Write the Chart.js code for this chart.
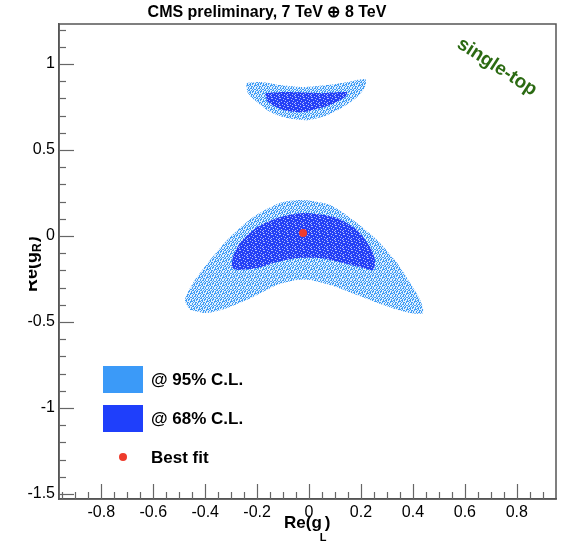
<!DOCTYPE html>
<html>
<head>
<meta charset="utf-8">
<script src="https://cdn.jsdelivr.net/npm/chart.js@4.4.1/dist/chart.umd.min.js"></script>
<style>
  html, body { margin: 0; padding: 0; background: #fff; }
  #wrap { width: 562px; height: 541px; }
</style>
</head>
<body>
<div id="wrap"><canvas id="cl-chart" width="562" height="541"></canvas></div>
<script>
// contour outlines, points are [Re(gL), Re(gR)]
const upper95 = [
  [-0.243, 0.890], [-0.177, 0.895], [-0.112, 0.878], [-0.023, 0.866], [0.069, 0.878],
  [0.146, 0.895], [0.216, 0.913], [0.216, 0.866], [0.185, 0.808], [0.131, 0.750],
  [0.069, 0.703], [-0.008, 0.674], [-0.085, 0.686], [-0.150, 0.721], [-0.200, 0.779],
  [-0.235, 0.831], [-0.243, 0.890]
];
const upper68 = [
  [-0.169, 0.831], [-0.085, 0.837], [0.042, 0.831], [0.146, 0.837], [0.139, 0.808],
  [0.081, 0.762], [-0.023, 0.721], [-0.100, 0.733], [-0.158, 0.779], [-0.169, 0.831]
];
const lower95 = [
  [-0.458, -0.430], [-0.478, -0.372], [-0.447, -0.273], [-0.381, -0.140], [-0.304, -0.006],
  [-0.216, 0.110], [-0.112, 0.192], [-0.023, 0.209], [0.081, 0.180], [0.169, 0.093],
  [0.262, -0.023], [0.339, -0.157], [0.389, -0.273], [0.428, -0.372], [0.439, -0.448],
  [0.389, -0.448], [0.285, -0.401], [0.185, -0.343], [0.081, -0.285], [0.004, -0.256],
  [-0.046, -0.256], [-0.123, -0.285], [-0.216, -0.355], [-0.316, -0.419], [-0.393, -0.448],
  [-0.458, -0.430]
];
const lower68 = [
  [-0.277, -0.198], [-0.297, -0.180], [-0.293, -0.122], [-0.266, -0.041], [-0.200, 0.052],
  [-0.112, 0.110], [-0.023, 0.134], [0.031, 0.128], [0.108, 0.105], [0.185, 0.035],
  [0.235, -0.064], [0.254, -0.140], [0.247, -0.198], [0.208, -0.186], [0.131, -0.157],
  [0.042, -0.128], [-0.046, -0.128], [-0.123, -0.151], [-0.200, -0.186], [-0.277, -0.198]
];
const bestFit = [[-0.023, 0.017]];

const xTickValues = [-0.8, -0.6, -0.4, -0.2, 0, 0.2, 0.4, 0.6, 0.8];
const xTickLabels = ['-0.8', '-0.6', '-0.4', '-0.2', '0', '0.2', '0.4', '0.6', '0.8'];
const yTickValues = [-1.5, -1, -0.5, 0, 0.5, 1];
const yTickLabels = ['-1.5', '-1', '-0.5', '0', '0.5', '1'];
const legendLabels = ['@ 95% C.L.', '@ 68% C.L.', 'Best fit'];

const FONT = "'Liberation Sans', Arial, Helvetica, sans-serif";
const C95 = '#3b9af8';
const C68 = '#1f3ffb';
const CFIT = '#ee3b2c';

Chart.defaults.font.family = FONT;
Chart.defaults.color = '#000';

// speckled fill so the contours look like the sampled point clouds
function speckle(base, light, mask) {
  const c = document.createElement('canvas');
  c.width = mask[0].length;
  c.height = mask.length;
  const g = c.getContext('2d');
  mask.forEach((row, j) => {
    [...row].forEach((ch, i) => {
      g.fillStyle = ch === '1' ? base : light;
      g.fillRect(i, j, 1, 1);
    });
  });
  return g.createPattern(c, 'repeat');
}
const mask95 = [
  '1.11.1..',
  '.1..1.11',
  '11.1.1..',
  '..1.11.1',
  '.11.1..1',
  '1.1...11',
  '.1.11.1.',
  '1..1.1..'
];
const mask68 = [
  '11.1111.',
  '1111.111',
  '.111111.',
  '111.1111',
  '11111.11',
  '1.111111',
  '1111.11.',
  '111111.1'
];
const fill95 = speckle('#3f9df6', '#e2effd', mask95);
const fill68 = speckle('#2440f6', '#b0bcfb', mask68);

const toXY = pts => pts.map(p => ({ x: p[0], y: p[1] }));

function contour(pts, fill, order) {
  return {
    data: toXY(pts),
    showLine: true,
    fill: 'shape',
    backgroundColor: fill,
    borderColor: 'rgba(0,0,0,0)',
    borderWidth: 0,
    pointRadius: 0,
    tension: 0.25,
    order: order
  };
}

// ROOT-style inward ticks, frame, titles and in-frame legend
const decorations = {
  id: 'decorations',
  afterDraw(chart) {
    const { ctx, chartArea: a, scales: { x, y } } = chart;
    ctx.save();

    // frame
    ctx.strokeStyle = '#555';
    ctx.lineWidth = 1.5;
    ctx.strokeRect(a.left, a.top, a.right - a.left, a.bottom - a.top);

    // x ticks: minor every 0.05, major every 0.2
    ctx.strokeStyle = '#666';
    ctx.lineWidth = 1.2;
    for (let i = -19; i <= 19; i++) {
      const v = i * 0.05;
      const px = Math.round(x.getPixelForValue(v)) + 0.5;
      if (px < a.left + 1 || px > a.right - 1) continue;
      const len = i % 4 === 0 ? 15 : 7;
      ctx.beginPath();
      ctx.moveTo(px, a.bottom);
      ctx.lineTo(px, a.bottom - len);
      ctx.stroke();
    }
    // y ticks: minor every 0.1, major every 0.5
    for (let i = -15; i <= 12; i++) {
      const v = i * 0.1;
      const py = Math.round(y.getPixelForValue(v)) + 0.5;
      if (py > a.bottom - 1 || py < a.top + 1) continue;
      const len = i % 5 === 0 ? 15 : 7;
      ctx.beginPath();
      ctx.moveTo(a.left, py);
      ctx.lineTo(a.left + len, py);
      ctx.stroke();
    }

    // header
    ctx.fillStyle = '#000';
    ctx.font = 'bold 16px ' + FONT;
    ctx.textAlign = 'center';
    ctx.textBaseline = 'middle';
    ctx.fillText('CMS preliminary, 7 TeV \u2295 8 TeV', 267, 13);

    // x axis title with subscript
    ctx.textAlign = 'left';
    ctx.textBaseline = 'alphabetic';
    ctx.font = 'bold 17px ' + FONT;
    let tx = 284;
    ctx.fillText('Re(g', tx, 528);
    tx += ctx.measureText('Re(g').width;
    ctx.font = 'bold 11px ' + FONT;
    ctx.fillText('L', tx - 2, 541);
    tx += 3;
    ctx.font = 'bold 17px ' + FONT;
    ctx.fillText(')', tx, 528);

    // y axis title, partly cut by the left edge
    ctx.save();
    ctx.beginPath();
    ctx.rect(29, a.top, 40, a.bottom - a.top);
    ctx.clip();
    ctx.translate(37, 292);
    ctx.rotate(-Math.PI / 2);
    ctx.font = 'bold 18px ' + FONT;
    let ty = 0;
    ctx.fillText('Re(g', ty, 0);
    ty += ctx.measureText('Re(g').width;
    ctx.font = 'bold 12px ' + FONT;
    ctx.fillText('R', ty, 4);
    ty += ctx.measureText('R').width + 1;
    ctx.font = 'bold 18px ' + FONT;
    ctx.fillText(')', ty, 0);
    ctx.restore();

    // channel tag
    ctx.save();
    ctx.translate(497, 67);
    ctx.rotate(33 * Math.PI / 180);
    ctx.fillStyle = '#2b6a12';
    ctx.font = 'bold 19px ' + FONT;
    ctx.textAlign = 'center';
    ctx.textBaseline = 'middle';
    ctx.fillText('single-top', 0, 0);
    ctx.restore();

    // legend
    const lx = a.left + 44;
    const rows = [a.top + 355, a.top + 394, a.top + 433];
    ctx.fillStyle = C95;
    ctx.fillRect(lx, rows[0] - 13, 40, 27);
    ctx.fillStyle = C68;
    ctx.fillRect(lx, rows[1] - 13, 40, 27);
    ctx.fillStyle = CFIT;
    ctx.beginPath();
    ctx.arc(lx + 20, rows[2], 4, 0, Math.PI * 2);
    ctx.fill();
    ctx.fillStyle = '#000';
    ctx.font = 'bold 17px ' + FONT;
    ctx.textBaseline = 'middle';
    ctx.textAlign = 'left';
    legendLabels.forEach((t, i) => ctx.fillText(t, lx + 48, rows[i] + 1));

    ctx.restore();
  }
};

new Chart(document.getElementById('cl-chart'), {
  type: 'scatter',
  data: {
    datasets: [
      {
        label: 'Best fit',
        data: toXY(bestFit),
        backgroundColor: CFIT,
        borderWidth: 0,
        pointRadius: 4,
        order: 0
      },
      Object.assign(contour(upper68, fill68, 1), { label: '68% C.L.' }),
      Object.assign(contour(lower68, fill68, 1), { label: '68% C.L.' }),
      Object.assign(contour(upper95, fill95, 2), { label: '95% C.L.' }),
      Object.assign(contour(lower95, fill95, 2), { label: '95% C.L.' })
    ]
  },
  options: {
    responsive: false,
    animation: false,
    layout: { padding: { top: 24, right: 6, left: 0, bottom: 0 } },
    plugins: {
      legend: { display: false },
      tooltip: { enabled: false }
    },
    scales: {
      x: {
        type: 'linear',
        min: -0.963,
        max: 0.951,
        grid: { display: false, drawTicks: false },
        border: { display: true, color: '#555', width: 1.5 },
        afterBuildTicks: s => { s.ticks = xTickValues.map(v => ({ value: v })); },
        afterFit: s => { s.height = 42; },
        ticks: {
          autoSkip: false,
          maxRotation: 0,
          padding: 4,
          font: { size: 16 },
          color: '#000',
          callback: (v, i) => xTickLabels[i]
        }
      },
      y: {
        type: 'linear',
        min: -1.529,
        max: 1.233,
        grid: { display: false, drawTicks: false },
        border: { display: true, color: '#555', width: 1.5 },
        afterBuildTicks: s => { s.ticks = yTickValues.map(v => ({ value: v })); },
        afterFit: s => { s.width = 59; },
        ticks: {
          autoSkip: false,
          padding: 4,
          font: { size: 16 },
          color: '#000',
          callback: (v, i) => yTickLabels[i]
        }
      }
    }
  },
  plugins: [decorations]
});
</script>
</body>
</html>
